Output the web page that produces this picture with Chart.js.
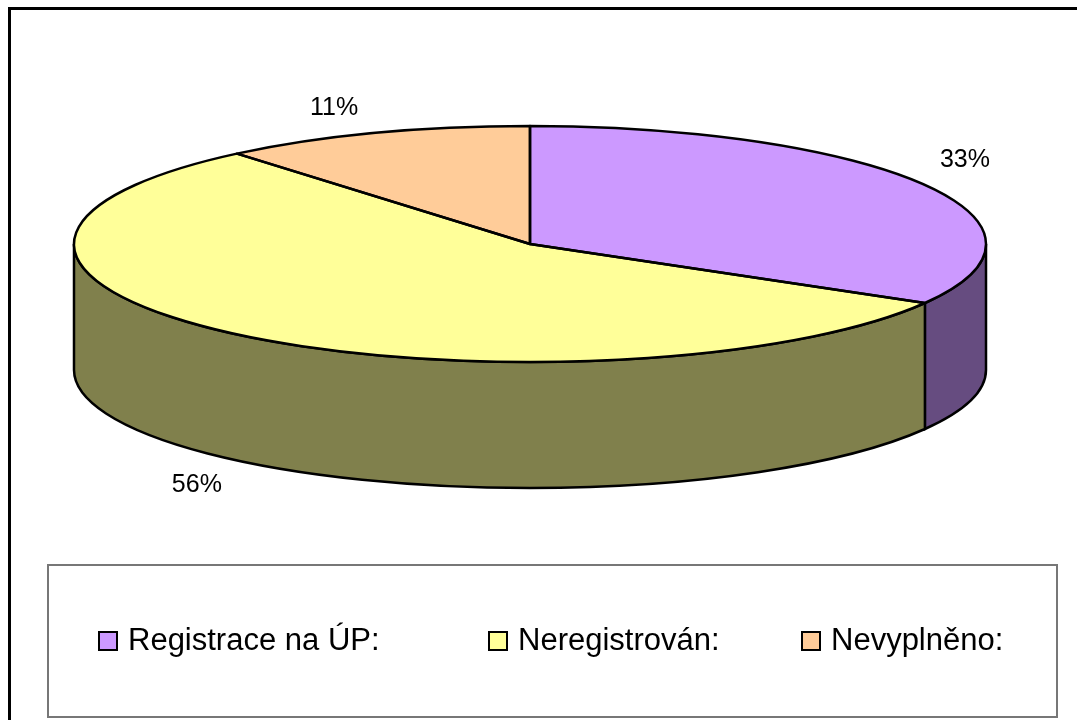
<!DOCTYPE html>
<html>
<head>
<meta charset="utf-8">
<script src="https://cdn.jsdelivr.net/npm/chart.js@4/dist/chart.umd.min.js"></script>
<style>
  html, body { margin: 0; padding: 0; background: #fff; }
  canvas { display: block; }
</style>
</head>
<body>
<canvas id="chart" width="1077" height="720"></canvas>
<script>
const categories = ['Registrace na ÚP:', 'Neregistrován:', 'Nevyplněno:'];
const counts = [3, 5, 1];
const topColors = ['#CC99FF', '#FFFF99', '#FFCC99'];
const sideColors = ['#664C80', '#80804C', '#80664C'];

// the flat pie gets squashed onto this ellipse, then given a side wall
const cx = 530, cy = 244, rx = 456, ry = 118, depth = 126;
const legendX = [99, 489, 802];
const FONT = "'Liberation Sans', Arial, sans-serif";

const total = counts.reduce((a, b) => a + b, 0);

function wallPath(ctx, a1, a2) {
    ctx.beginPath();
    ctx.ellipse(cx, cy, rx, ry, 0, a1, a2);
    ctx.ellipse(cx, cy + depth, rx, ry, 0, a2, a1, true);
    ctx.closePath();
}

const pie3d = {
    id: 'pie3d',
    beforeDatasetsDraw(chart) {
        const ctx = chart.ctx;
        const arcs = chart.getDatasetMeta(0).data;

        // side walls, only the front half (0..PI) is visible
        ctx.save();
        ctx.lineWidth = 2.5;
        ctx.strokeStyle = '#000';
        arcs.forEach((arc, i) => {
            for (let k = -1; k <= 1; k++) {
                const lo = Math.max(arc.startAngle, 2 * Math.PI * k);
                const hi = Math.min(arc.endAngle, 2 * Math.PI * k + Math.PI);
                if (hi > lo) {
                    wallPath(ctx, lo, hi);
                    ctx.fillStyle = sideColors[i];
                    ctx.fill();
                    ctx.stroke();
                }
            }
        });
        ctx.restore();

        // map the round pie onto the ellipse
        const a = arcs[0];
        ctx.save();
        ctx.translate(cx, cy);
        ctx.scale(rx / a.outerRadius, ry / a.outerRadius);
        ctx.translate(-a.x, -a.y);
    },
    afterDatasetsDraw(chart) {
        const ctx = chart.ctx;
        ctx.restore();
        const arcs = chart.getDatasetMeta(0).data;

        // slice outlines on top face
        ctx.save();
        ctx.lineWidth = 2.5;
        ctx.strokeStyle = '#000';
        ctx.lineJoin = 'round';
        arcs.forEach(arc => {
            ctx.beginPath();
            ctx.moveTo(cx, cy);
            ctx.ellipse(cx, cy, rx, ry, 0, arc.startAngle, arc.endAngle);
            ctx.closePath();
            ctx.stroke();
        });

        // percentage labels outside the slices
        ctx.fillStyle = '#000';
        ctx.font = '25px ' + FONT;
        ctx.textAlign = 'center';
        ctx.textBaseline = 'middle';
        arcs.forEach((arc, i) => {
            const mid = (arc.startAngle + arc.endAngle) / 2;
            const c = Math.cos(mid), s = Math.sin(mid);
            const x = cx + rx * c + Math.sign(c) * 40;
            const y = cy + ry * s + Math.sign(s) * 25 + (s > 0 ? depth : 0);
            ctx.fillText(Math.round(counts[i] / total * 100) + '%', x, y);
        });
        ctx.restore();
    },
    afterDraw(chart) {
        const ctx = chart.ctx;
        ctx.save();
        // chart frame
        ctx.strokeStyle = '#000';
        ctx.lineWidth = 3;
        ctx.strokeRect(9.5, 8.5, 1200, 900);

        // legend box
        ctx.strokeStyle = '#777';
        ctx.lineWidth = 2;
        ctx.strokeRect(48, 565, 1009, 152);

        ctx.font = '31px ' + FONT;
        ctx.textAlign = 'left';
        ctx.textBaseline = 'alphabetic';
        categories.forEach((name, i) => {
            const x = legendX[i];
            ctx.fillStyle = topColors[i];
            ctx.fillRect(x, 632, 18, 18);
            ctx.strokeStyle = '#000';
            ctx.lineWidth = 2;
            ctx.strokeRect(x, 632, 18, 18);
            ctx.fillStyle = '#000';
            ctx.fillText(name, x + 29, 650);
        });
        ctx.restore();
    }
};

new Chart(document.getElementById('chart'), {
    type: 'pie',
    data: {
        labels: categories,
        datasets: [{
            data: counts,
            backgroundColor: topColors,
            borderWidth: 0,
            clip: false
        }]
    },
    options: {
        responsive: false,
        animation: false,
        events: [],
        layout: { padding: 20 },
        plugins: {
            legend: { display: false },
            tooltip: { enabled: false }
        }
    },
    plugins: [pie3d]
});
</script>
</body>
</html>
